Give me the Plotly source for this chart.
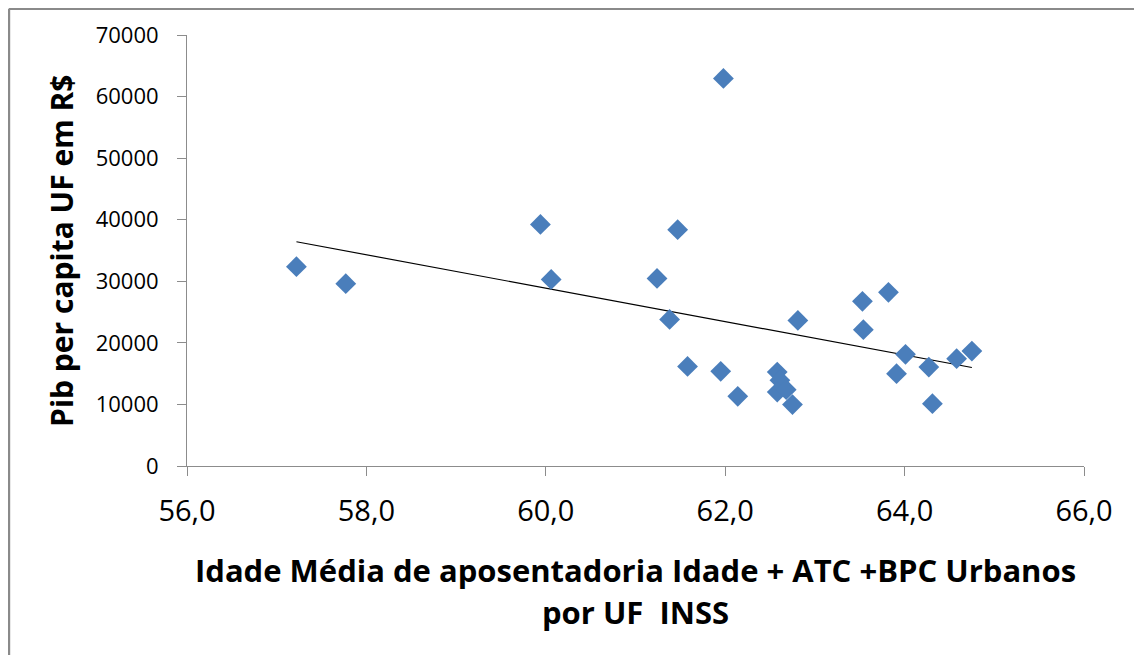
import numpy as np
import plotly.graph_objects as go

# Idade média de aposentadoria (x) e PIB per capita por UF (y)
idade = [57.22, 57.77, 59.94, 60.06, 61.98, 61.47, 61.24, 61.38, 61.58, 61.95,
         62.14, 62.81, 62.58, 62.61, 62.58, 62.68, 62.75, 63.53, 63.82, 63.54,
         64.01, 63.91, 64.27, 64.31, 64.58, 64.75]
pib = [32370, 29610, 39240, 30310, 62940, 38380, 30470, 23810, 16180, 15370,
       11310, 23650, 15260, 13910, 12010, 12400, 9970, 26740, 28200, 22140,
       18130, 15000, 16070, 10130, 17430, 18670]

x_ticks = [56, 58, 60, 62, 64, 66]
x_ticklabels = ["56,0", "58,0", "60,0", "62,0", "64,0", "66,0"]
y_ticks = [0, 10000, 20000, 30000, 40000, 50000, 60000, 70000]
y_ticklabels = ["0", "10000", "20000", "30000", "40000", "50000", "60000", "70000"]

x_title_lines = ["Idade Média de aposentadoria Idade + ATC +BPC Urbanos", "por UF  INSS"]
y_title = "Pib per capita UF em R$"

xa = np.array(idade)
ya = np.array(pib)
slope, intercept = np.polyfit(xa, ya, 1)
tx = [xa.min(), xa.max()]
ty = [slope * v + intercept for v in tx]

FONT = "Open Sans"
AXIS_COLOR = "#8c8c8c"

fig = go.Figure()
fig.add_trace(go.Scatter(
    x=tx, y=ty, mode="lines",
    line=dict(color="black", width=1.2),
    hoverinfo="skip", showlegend=False,
))
fig.add_trace(go.Scatter(
    x=idade, y=pib, mode="markers",
    marker=dict(symbol="diamond", size=16, color="#4A7EBB",
                line=dict(width=0)),
    showlegend=False,
))

W, H = 1126, 647
title_y = [-0.2413, -0.3387]
fig.update_layout(
    width=W, height=H,
    margin=dict(l=179, r=50, t=27, b=189),
    paper_bgcolor="white", plot_bgcolor="white",
    font=dict(family=FONT, color="black"),
    xaxis=dict(
        range=[56, 66], tickvals=x_ticks, ticktext=x_ticklabels,
        showgrid=False, zeroline=False,
        showline=True, linecolor=AXIS_COLOR, linewidth=1,
        ticks="outside", ticklen=9, tickcolor=AXIS_COLOR,
        tickfont=dict(family=FONT, size=29, color="black"),
        ticklabelstandoff=10,
    ),
    yaxis=dict(
        range=[0, 70000], tickvals=y_ticks, ticktext=y_ticklabels,
        showgrid=False, zeroline=False,
        showline=True, linecolor=AXIS_COLOR, linewidth=1,
        ticks="outside", ticklen=9, tickcolor=AXIS_COLOR,
        tickfont=dict(family=FONT, size=22, color="black"),
        ticklabelstandoff=14,
    ),
    annotations=[
        dict(text="<b>" + line + "</b>",
             xref="paper", yref="paper", x=0.5, y=yy,
             xanchor="center", yanchor="middle", showarrow=False,
             font=dict(family=FONT, size=31, color="black"))
        for line, yy in zip(x_title_lines, title_y)
    ] + [
        dict(text="<b>" + y_title + "</b>",
             xref="paper", yref="paper", x=-0.14, y=0.5,
             xanchor="center", yanchor="middle", showarrow=False,
             textangle=-90,
             font=dict(family=FONT, size=30, color="black")),
    ],
    shapes=[
        dict(type="line", xref="paper", yref="paper",
             x0=-0.1985, x1=-0.1985, y0=1.061, y1=-0.6,
             line=dict(color="#8a8a8a", width=2.5)),
        dict(type="line", xref="paper", yref="paper",
             x0=-0.1985, x1=1.2, y0=1.061, y1=1.061,
             line=dict(color="#8a8a8a", width=2.5)),
    ],
)

fig.write_html("out.html")
